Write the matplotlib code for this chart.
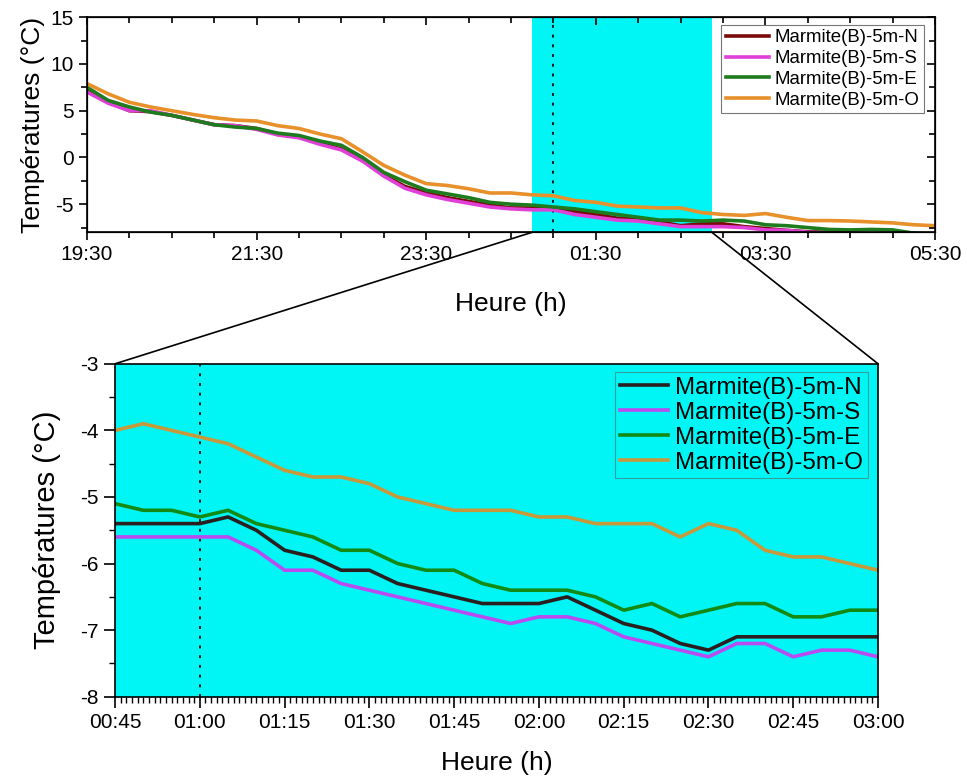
import matplotlib
matplotlib.use("Agg")
import matplotlib.pyplot as plt
import matplotlib.dates as mdates
from matplotlib.patches import ConnectionPatch
import pandas as pd

plt.rcParams['font.family'] = ['Liberation Sans', 'DejaVu Sans']
plt.rcParams['axes.unicode_minus'] = False

labels = ['Marmite(B)-5m-N', 'Marmite(B)-5m-S', 'Marmite(B)-5m-E', 'Marmite(B)-5m-O']

# whole night, one reading every 15 min, 19:30 -> 05:30
night_times = pd.date_range('2021-01-01 19:30', '2021-01-02 05:30', freq='15min')
night_N = [7.2, 5.9, 5.0, 4.9, 4.5, 4.0, 3.5, 3.4, 3.1, 2.5, 2.2, 1.5, 0.9, -0.3, -1.9,
           -3.1, -3.8, -4.3, -4.7, -5.1, -5.4, -5.4, -5.4, -5.8, -6.1, -6.5, -6.6, -6.9,
           -7.3, -7.1, -7.1, -7.4, -7.6, -7.8, -7.95, -8.0, -8.1, -8.2, -8.2, -8.3, -8.3]
night_S = [7.0, 5.8, 5.0, 5.0, 4.5, 4.0, 3.5, 3.4, 3.0, 2.4, 2.1, 1.4, 0.8, -0.4, -2.0,
           -3.3, -4.0, -4.5, -4.9, -5.3, -5.5, -5.6, -5.6, -6.1, -6.4, -6.7, -6.8, -7.1,
           -7.4, -7.4, -7.4, -7.5, -7.75, -7.8, -8.0, -8.1, -8.2, -8.3, -8.3, -8.4, -8.4]
night_E = [7.5, 6.1, 5.4, 4.85, 4.5, 4.0, 3.5, 3.25, 3.1, 2.6, 2.35, 1.75, 1.3, 0.0, -1.6,
           -2.6, -3.5, -3.9, -4.3, -4.8, -5.0, -5.1, -5.3, -5.5, -5.8, -6.1, -6.4, -6.7,
           -6.7, -6.8, -6.7, -6.8, -7.2, -7.3, -7.5, -7.7, -7.75, -7.7, -7.75, -8.1, -8.2]
night_O = [7.9, 6.8, 5.9, 5.4, 5.0, 4.6, 4.25, 4.0, 3.9, 3.4, 3.1, 2.5, 2.0, 0.6, -0.85,
           -1.9, -2.8, -3.0, -3.35, -3.8, -3.8, -4.0, -4.1, -4.6, -4.8, -5.2, -5.3, -5.4,
           -5.4, -5.9, -6.1, -6.2, -6.0, -6.4, -6.75, -6.75, -6.8, -6.9, -7.0, -7.2, -7.3]

# zoomed window, one reading every 5 min, 00:45 -> 03:00
zoom_times = pd.date_range('2021-01-02 00:45', '2021-01-02 03:00', freq='5min')
zoom_N = [-5.4, -5.4, -5.4, -5.4, -5.3, -5.5, -5.8, -5.9, -6.1, -6.1, -6.3, -6.4, -6.5, -6.6,
          -6.6, -6.6, -6.5, -6.7, -6.9, -7.0, -7.2, -7.3, -7.1, -7.1, -7.1, -7.1, -7.1, -7.1]
zoom_S = [-5.6, -5.6, -5.6, -5.6, -5.6, -5.8, -6.1, -6.1, -6.3, -6.4, -6.5, -6.6, -6.7, -6.8,
          -6.9, -6.8, -6.8, -6.9, -7.1, -7.2, -7.3, -7.4, -7.2, -7.2, -7.4, -7.3, -7.3, -7.4]
zoom_E = [-5.1, -5.2, -5.2, -5.3, -5.2, -5.4, -5.5, -5.6, -5.8, -5.8, -6.0, -6.1, -6.1, -6.3,
          -6.4, -6.4, -6.4, -6.5, -6.7, -6.6, -6.8, -6.7, -6.6, -6.6, -6.8, -6.8, -6.7, -6.7]
zoom_O = [-4.0, -3.9, -4.0, -4.1, -4.2, -4.4, -4.6, -4.7, -4.7, -4.8, -5.0, -5.1, -5.2, -5.2,
          -5.2, -5.3, -5.3, -5.4, -5.4, -5.4, -5.6, -5.4, -5.5, -5.8, -5.9, -5.9, -6.0, -6.1]

top_colors = ['#7a0a0a', '#e040d8', '#1e7b1e', '#e8902a']
bot_colors = ['#2a1e1e', '#b84cf0', '#138a13', '#c8993a']

span_start = pd.Timestamp('2021-01-02 00:45')
span_end = pd.Timestamp('2021-01-02 02:52')
mark_time = pd.Timestamp('2021-01-02 01:00')
cyan = '#00f5f5'

fig = plt.figure(figsize=(9.67, 7.82), dpi=100)
ax1 = fig.add_axes([0.090, 0.703, 0.877, 0.275])
ax2 = fig.add_axes([0.119, 0.109, 0.789, 0.4258])

# ---- top panel: whole night
ax1.axvspan(span_start, span_end, color=cyan, lw=0, zorder=0)
ax1.axvline(mark_time, color='#1a1a1a', lw=1.4, ls=(0, (1.5, 3.5)), zorder=1)
for vals, c, lab in zip([night_N, night_S, night_E, night_O], top_colors, labels):
    ax1.plot(night_times, vals, color=c, lw=2.6, label=lab, zorder=2)

x0 = pd.Timestamp('2021-01-01 19:30')
x1 = pd.Timestamp('2021-01-02 05:30')
ax1.set_xlim(x0, x1)
ax1.set_ylim(-8, 15)
major_x = pd.date_range(x0, x1, freq='2h')
minor_x = pd.date_range(x0, x1, freq='30min')
ax1.set_xticks(major_x)
ax1.set_xticks(minor_x, minor=True)
ax1.xaxis.set_major_formatter(mdates.DateFormatter('%H:%M'))
ax1.set_yticks([-5, 0, 5, 10, 15])
ax1.set_yticks([-7.5, -2.5, 2.5, 7.5, 12.5], minor=True)
ax1.tick_params(which='major', length=6, width=1.2, labelsize=15, direction='out')
ax1.tick_params(which='minor', length=4, width=1.2, direction='out')
for s in ax1.spines.values():
    s.set_linewidth(1.2)
ax1.set_ylabel('Températures (°C)', fontsize=19, labelpad=4)
ax1.set_xlabel('Heure (h)', fontsize=19, labelpad=20)

# mirrored inward ticks on top and right
axt = ax1.twiny()
axt.set_xlim(ax1.get_xlim())
axt.set_xticks(mdates.date2num(major_x))
axt.set_xticks(mdates.date2num(minor_x), minor=True)
axt.tick_params(which='both', direction='in', labeltop=False, width=1.2)
axt.tick_params(which='major', length=6)
axt.tick_params(which='minor', length=4)
axr = ax1.twinx()
axr.set_ylim(ax1.get_ylim())
axr.set_yticks([-5, 0, 5, 10, 15])
axr.set_yticks([-7.5, -2.5, 2.5, 7.5, 12.5], minor=True)
axr.tick_params(which='both', direction='in', labelright=False, width=1.2)
axr.tick_params(which='major', length=6)
axr.tick_params(which='minor', length=4)

leg1 = axr.legend(*ax1.get_legend_handles_labels(), loc='upper right',
                  bbox_to_anchor=(0.987, 0.965), fontsize=13.4, frameon=True,
                  fancybox=False, edgecolor='#555555', handlelength=2.3,
                  handletextpad=0.3, labelspacing=0.2, borderpad=0.25,
                  borderaxespad=0)
leg1.get_frame().set_linewidth(0.8)

# ---- bottom panel: zoomed window
ax2.set_facecolor(cyan)
ax2.axvline(mark_time, color='#1a1a1a', lw=1.4, ls=(0, (1.5, 3.5)), zorder=1)
for vals, c, lab in zip([zoom_N, zoom_S, zoom_E, zoom_O], bot_colors, labels):
    ax2.plot(zoom_times, vals, color=c, lw=2.6, label=lab, zorder=2)

z0 = pd.Timestamp('2021-01-02 00:45')
z1 = pd.Timestamp('2021-01-02 03:00')
ax2.set_xlim(z0, z1)
ax2.set_ylim(-8, -3)
ax2.set_xticks(pd.date_range(z0, z1, freq='15min'))
ax2.set_xticks(pd.date_range(z0, z1, freq='1min'), minor=True)
ax2.xaxis.set_major_formatter(mdates.DateFormatter('%H:%M'))
ax2.set_yticks([-8, -7, -6, -5, -4, -3])
ax2.set_yticks([-7.5, -6.5, -5.5, -4.5, -3.5], minor=True)
ax2.tick_params(which='major', length=8, width=1.2, labelsize=15, direction='out')
ax2.tick_params(which='minor', length=4, width=1.0, direction='out')
for s in ax2.spines.values():
    s.set_linewidth(1.2)
ax2.set_ylabel('Températures (°C)', fontsize=21, labelpad=14)
ax2.set_xlabel('Heure (h)', fontsize=19, labelpad=14)

leg2 = ax2.legend(loc='upper right', bbox_to_anchor=(0.987, 0.975), fontsize=17.4,
                  frameon=True, fancybox=False, facecolor='none', edgecolor='#3c8c8c',
                  handlelength=2.0, handletextpad=0.3, labelspacing=0.12,
                  borderpad=0.2, borderaxespad=0)
leg2.get_frame().set_linewidth(0.8)

# ---- lines joining the highlighted span to the zoomed panel
for xa, xb in [(span_start, 0), (span_end, 1)]:
    con = ConnectionPatch(xyA=(mdates.date2num(xa), -8), coordsA=ax1.transData,
                          xyB=(xb, 1), coordsB=ax2.transAxes,
                          color='black', lw=1.2)
    fig.add_artist(con)

fig.savefig('out.png', dpi=100)
